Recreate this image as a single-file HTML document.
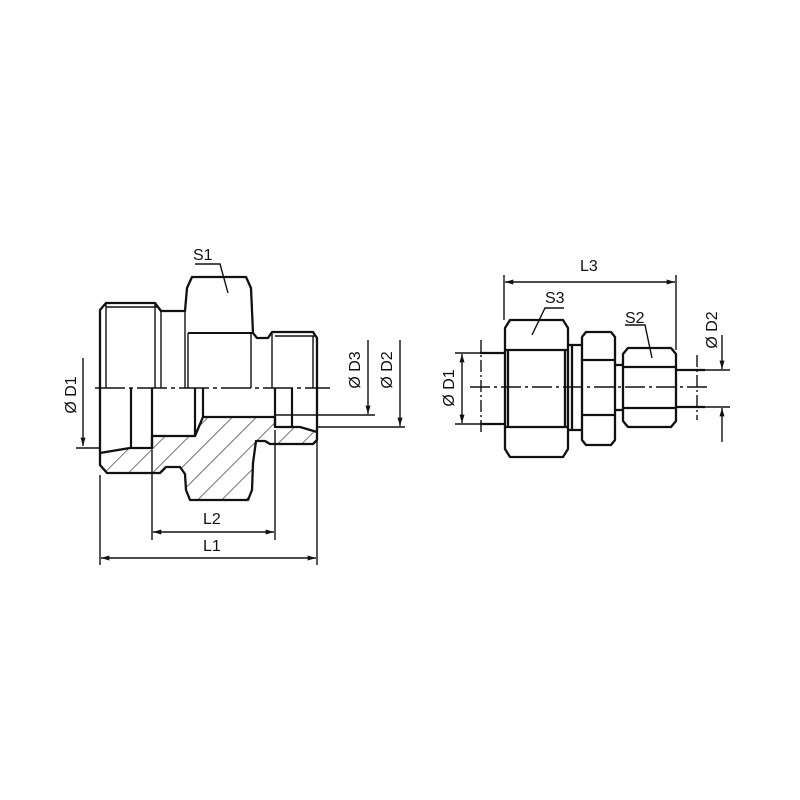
<!DOCTYPE html>
<html><head><style>body{margin:0;background:#fff}svg{display:block}text{font-family:"Liberation Sans",sans-serif;font-size:16px;fill:#111}</style></head><body>
<svg width="800" height="800" viewBox="0 0 800 800" xmlns="http://www.w3.org/2000/svg">
<defs>
<marker id="a" viewBox="0 0 10 6" refX="10" refY="3" markerWidth="13" markerHeight="5" orient="auto-start-reverse" markerUnits="userSpaceOnUse"><path d="M0,0L10,3L0,6z" fill="#111"/></marker>
<pattern id="h" patternUnits="userSpaceOnUse" width="17" height="17" patternTransform="rotate(45)"><line x1="0" y1="0" x2="0" y2="17" stroke="#111" stroke-width="1.1"/></pattern>
</defs>
<g fill="none" stroke="#111" stroke-width="2.3" stroke-linejoin="round">
<path d="M100,388 V310 L106,303 H155 L161,311 H185 L187,288 L192,277 H246 L251,288 L253,333 L257,338 H268 L272,332 H313 L317,338 V388"/>
<path d="M100,388 V465 L107,473 H160 L166,467 H180 L185,474 L186,490 L190,500 H248 L252,490 L253,463 L256,441 H265 L270,444 H313 L317,440 V388"/>
<path d="M100,453 L130,448 H152 V436 H195 L203,417 H275 V427 H300 L317,432"/>
<path d="M107,473 H160 L166,467 H180 L185,474 L186,490 L190,500 H248 L252,490 L253,463 L256,441 H265 L270,444 H313 L317,440 V432 L300,427 H275 V417 H203 L195,436 H152 V448 H130 L100,453 V465 Z" fill="url(#h)" stroke-width="0"/>
</g>
<g fill="none" stroke="#111" stroke-width="1.4">
<line x1="106" y1="307" x2="158" y2="307"/>
<line x1="275" y1="336" x2="315" y2="336"/>
<line x1="106" y1="303" x2="106" y2="388"/>
<line x1="155" y1="303" x2="155" y2="388"/>
<line x1="161" y1="311" x2="161" y2="388"/>
<line x1="185" y1="311" x2="185" y2="388"/>
<line x1="188" y1="333" x2="253" y2="333" stroke-width="2"/>
<line x1="188" y1="333" x2="188" y2="388"/>
<line x1="251" y1="333" x2="251" y2="388"/>
<line x1="272" y1="332" x2="272" y2="388"/>
<line x1="313" y1="336" x2="313" y2="388"/>
<line x1="131" y1="388" x2="131" y2="448" stroke-width="2.2"/>
<line x1="152" y1="388" x2="152" y2="448" stroke-width="2.2"/>
<line x1="195" y1="388" x2="195" y2="436" stroke-width="2.2"/>
<line x1="203" y1="388" x2="203" y2="417" stroke-width="2.2"/>
<line x1="275" y1="388" x2="275" y2="427" stroke-width="2.2"/>
<line x1="292" y1="388" x2="292" y2="427" stroke-width="2.2"/>
<line x1="95" y1="388" x2="330" y2="388" stroke-dasharray="30,4,4,4"/>
<line x1="100" y1="475" x2="100" y2="565"/>
<line x1="317" y1="440" x2="317" y2="565"/>
<line x1="152" y1="450" x2="152" y2="540"/>
<line x1="275" y1="430" x2="275" y2="540"/>
<line x1="101" y1="558" x2="316" y2="558" marker-start="url(#a)" marker-end="url(#a)"/>
<line x1="153" y1="532" x2="274" y2="532" marker-start="url(#a)" marker-end="url(#a)"/>
<line x1="83" y1="358" x2="83" y2="446" marker-end="url(#a)"/>
<line x1="76" y1="448" x2="100" y2="448"/>
<line x1="368" y1="340" x2="368" y2="414" marker-end="url(#a)"/>
<line x1="276" y1="415" x2="375" y2="415"/>
<line x1="400" y1="340" x2="400" y2="426" marker-end="url(#a)"/>
<line x1="317" y1="427" x2="405" y2="427"/>
<polyline points="195,264 220,264 228,293"/>
</g>
<text x="193" y="260">S1</text>
<text x="203" y="524">L2</text>
<text x="203" y="551">L1</text>
<text transform="translate(76,395) rotate(-90)" text-anchor="middle">Ø D1</text>
<text transform="translate(360,370) rotate(-90)" text-anchor="middle">Ø D3</text>
<text transform="translate(392,370) rotate(-90)" text-anchor="middle">Ø D2</text>

<g fill="none" stroke="#111" stroke-width="2.3" stroke-linejoin="round">
<path d="M510,320 H563 L568,328 V449 L563,457 H510 L505,449 V328 Z"/>
<path d="M505,350 H568 M505,427 H568 M508,350 V427 M565,350 V427"/>
<path d="M568,345 H582 M568,430 H582 M572,345 V430"/>
<path d="M586,332 H611 L615,337 V440 L611,445 H586 L582,440 V337 Z"/>
<path d="M582,360 H615 M582,415 H615"/>
<path d="M615,365 H623 M615,410 H623"/>
<path d="M628,348 H671 L676,354 V421 L671,427 H628 L623,421 V354 Z"/>
<path d="M623,367 H676 M623,408 H676"/>
<path d="M676,370 H705 M676,407 H705"/>
<path d="M480,353 H505 M480,424 H505"/>
</g>
<g fill="none" stroke="#111" stroke-width="1.4">
<line x1="470" y1="387" x2="708" y2="387" stroke-dasharray="20,4,3,4"/>
<line x1="481" y1="340" x2="481" y2="432" stroke-dasharray="12,3,2,3"/>
<line x1="697" y1="355" x2="697" y2="420" stroke-dasharray="12,3,2,3"/>
<line x1="504" y1="275" x2="504" y2="320"/>
<line x1="676" y1="275" x2="676" y2="350"/>
<line x1="505" y1="282" x2="675" y2="282" marker-start="url(#a)" marker-end="url(#a)"/>
<line x1="455" y1="353" x2="480" y2="353"/>
<line x1="455" y1="424" x2="480" y2="424"/>
<line x1="462" y1="354" x2="462" y2="423" marker-start="url(#a)" marker-end="url(#a)"/>
<line x1="705" y1="370" x2="730" y2="370"/>
<line x1="705" y1="407" x2="730" y2="407"/>
<line x1="722" y1="335" x2="722" y2="369" marker-end="url(#a)"/>
<line x1="722" y1="442" x2="722" y2="408" marker-end="url(#a)"/>
<polyline points="564,308 545,308 532,335"/>
<polyline points="625,325 645,325 652,358"/>
</g>
<text x="580" y="271">L3</text>
<text x="545" y="303">S3</text>
<text x="625" y="323">S2</text>
<text transform="translate(454,388) rotate(-90)" text-anchor="middle">Ø D1</text>
<text transform="translate(717,330) rotate(-90)" text-anchor="middle">Ø D2</text>
</svg>
</body></html>
